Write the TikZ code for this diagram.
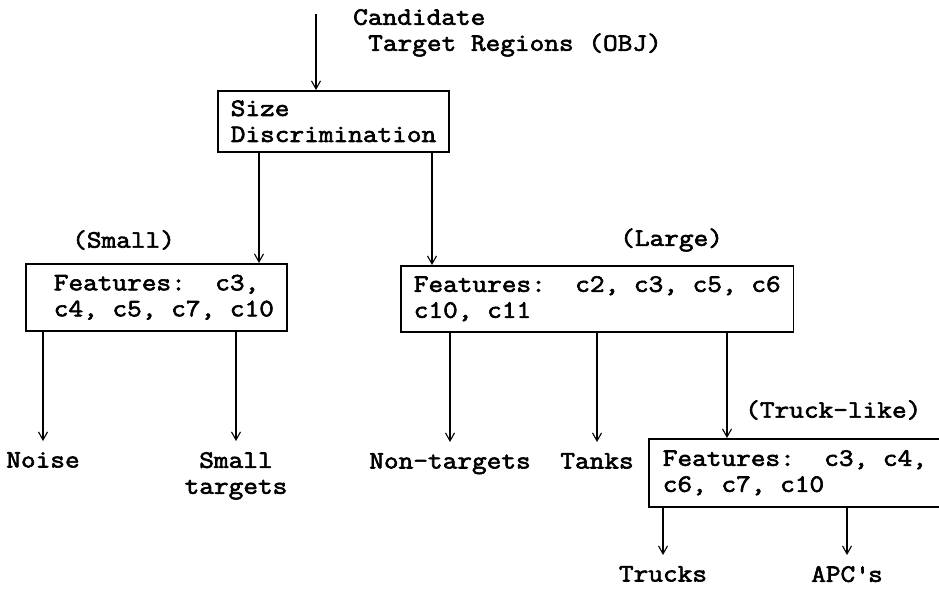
\documentclass[tikz,border=0pt]{standalone}
\usepackage{fontspec}
\setmonofont{Latin Modern Mono}[FakeStretch=1.14, FakeBold=2.5]
\usetikzlibrary{arrows.meta}

\newcommand\lead{\hspace*{.6em}}

\tikzset{
	box/.style={draw, line width=1.5pt, inner xsep=13, inner ysep=0, minimum height=66, align=left, anchor=north west},
	leaf/.style={inner xsep=0, inner ysep=11, align=center, anchor=north},
	tag/.style={inner sep=0, anchor=west},
	arr/.style={-{Straight Barb[length=8pt, width=9pt]}, line width=1.1pt},
}

\begin{document}
\begin{tikzpicture}[x=1pt, y=-1pt, font=\ttfamily\fontsize{25}{26}\selectfont\frenchspacing]
	\useasboundingbox (0,0) rectangle (939,597);

	\node[inner sep=0, align=left, anchor=north west] (cand) at (353,9) {Candidate\\\lead Target Regions (OBJ)};
	\coordinate (feed) at (316,14);

	\node[box, minimum height=61] (size) at (217,90) {Size\\Discrimination};
	\node[box, minimum height=67] (small) at (25,263) {\lead Features:~~c3,\\\lead c4, c5, c7, c10};
	\node[box] (large) at (400,265) {Features:~~c2, c3, c5, c6\\c10, c11};
	\node[box, inner xsep=14, minimum height=68] (truck) at (648,438) {Features:~~c3, c4,\\c6, c7, c10};

	\node[tag] (lsmall) at (72,240) {(Small)};
	\node[tag] (llarge) at (620,240) {(Large)};
	\node[tag] (ltruck) at (745,410) {(Truck-like)};

	\node[leaf] (noise) at (43,441) {Noise};
	\node[leaf] (smallt) at (236,441) {Small\\targets};
	\node[leaf] (nontgt) at (450,442) {Non-targets};
	\node[leaf] (tanks) at (597,442) {Tanks};
	\node[leaf] (trucks) at (663,555) {Trucks};
	\node[leaf] (apcs) at (847,555) {APC\textquotesingle s};

	\coordinate (xsmall) at (259,0);
	\coordinate (xlarge) at (432,0);
	\coordinate (xtruck) at (727,0);

	\draw[arr] (feed) -- (feed |- size.north);
	\draw[arr] (size.south -| xsmall) -- (small.north -| xsmall);
	\draw[arr] (size.south -| xlarge) -- (large.north -| xlarge);

	\draw[arr] (small.south -| noise) -- (noise);
	\draw[arr] (small.south -| smallt) -- (smallt);
	\draw[arr] (large.south -| nontgt) -- (nontgt);
	\draw[arr] (large.south -| tanks) -- (tanks);
	\draw[arr] (large.south -| xtruck) -- (truck.north -| xtruck);
	\draw[arr] (truck.south -| trucks) -- (trucks);
	\draw[arr] (truck.south -| apcs) -- (apcs);
\end{tikzpicture}
\end{document}
